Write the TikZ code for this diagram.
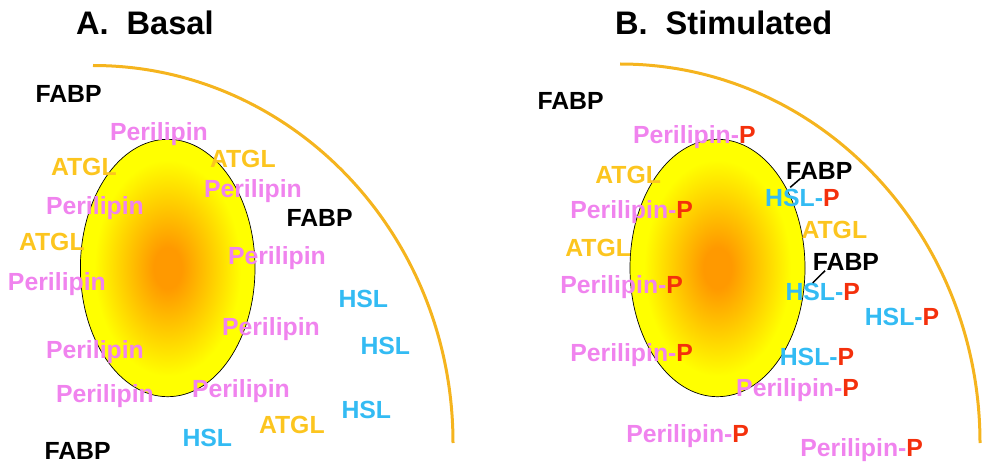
\documentclass[tikz,border=0pt]{standalone}
\usepackage{fontspec}
\setmainfont{Liberation Sans}
\usetikzlibrary{calc}
\definecolor{membrane}{HTML}{F5B41E}
\definecolor{perilipin}{HTML}{F083EE}
\definecolor{atgl}{HTML}{FCC51F}
\definecolor{hsl}{HTML}{33BBF3}
\definecolor{phospho}{HTML}{F4300C}
\definecolor{corecolor}{HTML}{FF9900}
\pgfdeclareradialshading{lipidcore}{\pgfpoint{0bp}{0bp}}{%
  color(0bp)=(corecolor); color(4bp)=(corecolor); color(21bp)=(yellow); color(50bp)=(yellow)}
\tikzset{
  x=1pt, y=-1pt,
  label text/.style={anchor=base west, inner sep=0pt, outer sep=0pt,
    font=\fontsize{24.8}{28}\selectfont\bfseries},
  panel title/.style={anchor=base west, inner sep=0pt, outer sep=0pt, text=black,
    font=\fontsize{32.6}{36}\selectfont\bfseries},
  fabp/.style={label text, text=black},
  peri/.style={label text, text=perilipin},
  atglabel/.style={label text, text=atgl},
  hsllabel/.style={label text, text=hsl},
  droplet/.style={draw=black, line width=0.7pt, shading=lipidcore},
  cell edge/.style={draw=membrane, line width=3pt},
  tether/.style={draw=black, line width=1.5pt}
}
\newcommand{\periP}{Perilipin-\textcolor{phospho}{P}}
\newcommand{\hslP}{HSL-\textcolor{phospho}{P}}
\begin{document}
\begin{tikzpicture}
\useasboundingbox (0,0) rectangle (987,470);

% Panel A: basal state
\node[panel title] (titleA) at (76,35) {A.\ \ Basal};
\path[droplet] (167.7,268) ellipse [x radius=87.3, y radius=128.7];
\draw[cell edge] (93,65.5) arc [start angle=-90, end angle=0, x radius=360, y radius=377.5];

\node[fabp] (a1) at (35.5,102.7) {FABP};
\node[fabp] (a2) at (286.5,226.7) {FABP};
\node[fabp] (a3) at (44.5,459.3) {FABP};
\node[peri] (a4) at (110,140.5) {Perilipin};
\node[peri] (a5) at (204,198) {Perilipin};
\node[peri] (a6) at (46,215) {Perilipin};
\node[peri] (a7) at (228,264.3) {Perilipin};
\node[peri] (a8) at (8,290.7) {Perilipin};
\node[peri] (a9) at (222,335.3) {Perilipin};
\node[peri] (a10) at (46,358.3) {Perilipin};
\node[peri] (a11) at (192,397.3) {Perilipin};
\node[peri] (a12) at (56,402.7) {Perilipin};
\node[atglabel] (a13) at (51,175.7) {ATGL};
\node[atglabel] (a14) at (210,168) {ATGL};
\node[atglabel] (a15) at (19,250.7) {ATGL};
\node[atglabel] (a16) at (259,433.3) {ATGL};
\node[hsllabel] (a17) at (338.5,307.7) {HSL};
\node[hsllabel] (a18) at (360.5,354.3) {HSL};
\node[hsllabel] (a19) at (341.5,418.3) {HSL};
\node[hsllabel] (a20) at (182.5,446.7) {HSL};

% Panel B: stimulated state
\node[panel title] (titleB) at (615,35) {B.\ \ Stimulated};
\path[droplet] (717.5,268) ellipse [x radius=87.5, y radius=128.7];
\draw[cell edge] (620,64) arc [start angle=-90, end angle=0, x radius=360, y radius=379];

\node[fabp] (b1) at (537.5,109.3) {FABP};
\node[fabp] (b2) at (786.2,179.3) {FABP};
\node[fabp] (b3) at (812.8,270) {FABP};
\node[peri] (b4) at (633,143.3) {\periP};
\node[peri] (b5) at (570.3,218.3) {\periP};
\node[peri] (b6) at (560.3,293.3) {\periP};
\node[peri] (b7) at (570.3,361.7) {\periP};
\node[peri] (b8) at (736.2,396.7) {\periP};
\node[peri] (b9) at (626.3,442.7) {\periP};
\node[peri] (b10) at (800.3,456.7) {\periP};
\node[atglabel] (b11) at (595.3,183.3) {ATGL};
\node[atglabel] (b12) at (801.5,238.3) {ATGL};
\node[atglabel] (b13) at (565.3,256.7) {ATGL};
\node[hsllabel] (b14) at (765.2,206.7) {\hslP};
\node[hsllabel] (b15) at (785.5,300.7) {\hslP};
\node[hsllabel] (b16) at (864.8,325.3) {\hslP};
\node[hsllabel] (b17) at (779.8,365.7) {\hslP};

% FABP bound to phosphorylated HSL
\draw[tether] ($(b2.south west)+(14.5,-1)$) -- ($(b14.north west)+(25,-2)$);
\draw[tether] ($(b3.south west)+(12.2,0.7)$) -- ($(b15.north west)+(27.2,-0.5)$);
\end{tikzpicture}
\end{document}
